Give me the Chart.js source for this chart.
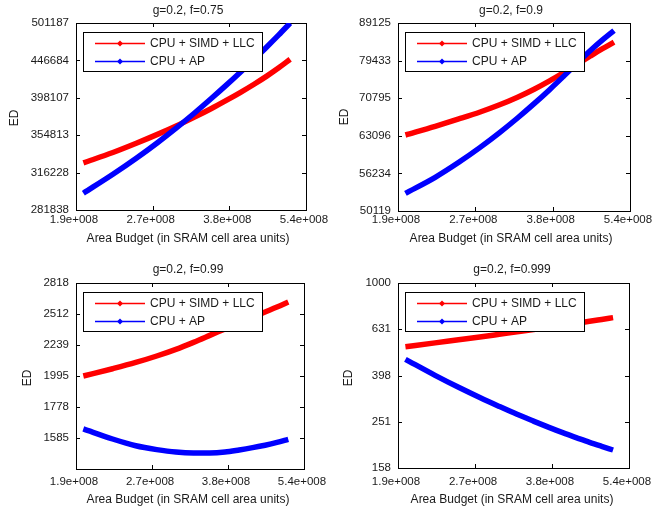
<!DOCTYPE html>
<html>
<head>
<meta charset="utf-8">
<script src="https://cdn.jsdelivr.net/npm/chart.js@4/dist/chart.umd.min.js"></script>
<style>
  html, body { margin: 0; padding: 0; background: #fff; overflow: hidden; }
  body { position: relative; width: 653px; height: 509px; }
  canvas { position: absolute; }
</style>
</head>
<body>
<canvas id="p1" width="340" height="255" style="left:0;top:0"></canvas>
<canvas id="p2" width="340" height="255" style="left:325px;top:0"></canvas>
<canvas id="p3" width="340" height="254" style="left:0;top:255px"></canvas>
<canvas id="p4" width="340" height="254" style="left:325px;top:255px"></canvas>
<script>
// ED vs area budget, four (g, f) cases

// --- Data ---
const areaBudget = [1.97e8, 2.25e8, 2.5e8, 2.75e8, 3.0e8, 3.25e8, 3.5e8, 3.75e8, 4.0e8, 4.25e8, 4.5e8, 4.75e8, 5.0e8];

const simdF075 = [325800, 336400, 346100, 355700, 365300, 375100, 384900, 394900, 404900, 415100, 425600, 436600, 448200];
const apF075   = [296800, 314600, 330500, 346700, 363200, 379900, 396900, 413900, 431100, 448400, 465600, 483200, 501100];

const simdF09 = [63250, 64940, 66430, 67870, 69380, 71010, 72770, 74650, 76640, 78640, 80560, 82380, 84060];
const apF09   = [52910, 55570, 58180, 60900, 63720, 66630, 69620, 72670, 75800, 78930, 81930, 84630, 87100];

const simdF099 = [1995, 2050, 2098, 2149, 2203, 2261, 2320, 2377, 2431, 2482, 2531, 2578, 2626];
const apF099   = [1639, 1579, 1540, 1518, 1504, 1499, 1499, 1504, 1516, 1529, 1543, 1559, 1577];

const simdF0999 = [530.3, 550.8, 568.1, 584.1, 600.0, 615.2, 629.4, 643.3, 656.9, 670.1, 682.9, 695.9, 708.5];
const apF0999   = [467.8, 398.8, 354.0, 319.8, 292.7, 270.5, 252.7, 237.5, 224.7, 214.1, 204.7, 196.7, 189.6];

const seriesLabels = ["CPU + SIMD + LLC", "CPU + AP"];
const plotTitles = ["g=0.2, f=0.75", "g=0.2, f=0.9", "g=0.2, f=0.99", "g=0.2, f=0.999"];

const xTickValues = [1.905e8, 2.692e8, 3.802e8, 5.370e8];
const xTickLabels = ["1.9e+008", "2.7e+008", "3.8e+008", "5.4e+008"];

const yTicksF075 = [281838, 316228, 354813, 398107, 446684, 501187];
const yTicksF09 = [50119, 56234, 63096, 70795, 79433, 89125];
const yTicksF099 = [1585, 1778, 1995, 2239, 2512, 2818];
const yTicksF0999 = [158, 251, 398, 631, 1000];

const FONT = "'Liberation Sans', Arial, sans-serif";
const TEXT_COLOR = "#1a1a1a";

// --- Plugin: box, inward ticks, legend, titles ---

const matlabLook = {
  id: "matlabLook",
  beforeDatasetsDraw(chart) {
    const { ctx, chartArea: a, scales } = chart;
    ctx.save();
    ctx.strokeStyle = "#000";
    ctx.lineWidth = 1;
    ctx.strokeRect(Math.round(a.left) + 0.5, Math.round(a.top) + 0.5,
      Math.round(a.right - a.left), Math.round(a.bottom - a.top));
    ctx.beginPath();
    scales.x.ticks.forEach(t => {
      const px = Math.round(scales.x.getPixelForValue(t.value)) + 0.5;
      ctx.moveTo(px, a.bottom); ctx.lineTo(px, a.bottom - 4);
      ctx.moveTo(px, a.top); ctx.lineTo(px, a.top + 4);
    });
    scales.y.ticks.forEach(t => {
      const py = Math.round(scales.y.getPixelForValue(t.value)) + 0.5;
      ctx.moveTo(a.left, py); ctx.lineTo(a.left + 4, py);
      ctx.moveTo(a.right, py); ctx.lineTo(a.right - 4, py);
    });
    ctx.stroke();
    ctx.restore();
  },
  afterDatasetsDraw(chart) {
    const { ctx, chartArea: a } = chart;
    const bx = Math.round(a.left) + 7, by = Math.round(a.top) + 9;
    ctx.save();
    ctx.fillStyle = "#fff";
    ctx.fillRect(bx, by, 179, 39);
    ctx.strokeStyle = "#000";
    ctx.lineWidth = 1;
    ctx.strokeRect(bx + 0.5, by + 0.5, 179, 39);
    chart.data.datasets.forEach((ds, i) => {
      const y = by + 11.5 + i * 18;
      ctx.strokeStyle = ds.borderColor;
      ctx.lineWidth = 1.5;
      ctx.beginPath();
      ctx.moveTo(bx + 12, y);
      ctx.lineTo(bx + 62, y);
      ctx.stroke();
      ctx.fillStyle = ds.borderColor;
      ctx.beginPath();
      ctx.moveTo(bx + 37, y - 3);
      ctx.lineTo(bx + 40, y);
      ctx.lineTo(bx + 37, y + 3);
      ctx.lineTo(bx + 34, y);
      ctx.closePath();
      ctx.fill();
      ctx.fillStyle = TEXT_COLOR;
      ctx.font = "12px " + FONT;
      ctx.textBaseline = "middle";
      ctx.textAlign = "left";
      ctx.fillText(ds.label, bx + 67, y + 0.5);
    });
    ctx.restore();
  },
  afterDraw(chart, args, opts) {
    const ctx = chart.ctx;
    ctx.save();
    ctx.fillStyle = TEXT_COLOR;
    ctx.font = "12px " + FONT;
    ctx.textAlign = "center";
    ctx.textBaseline = "middle";
    ctx.fillText(opts.title, opts.titleX, opts.titleY);
    ctx.fillText("Area Budget (in SRAM cell area units)", opts.titleX, opts.xTitleY);
    ctx.translate(opts.yTitleX, opts.yTitleY);
    ctx.rotate(-Math.PI / 2);
    ctx.fillText("ED", 0, 0);
    ctx.restore();
  },
};

// --- Chart builder ---

function makePlot(id, simd, ap, yTicks, yMin, yMax, box) {
  const canvas = document.getElementById(id);
  const tickFont = { family: FONT, size: 11.5 };
  const lineStyle = {
    borderWidth: 5.5,
    pointRadius: 0,
    cubicInterpolationMode: "monotone",
    fill: false,
  };
  return new Chart(canvas.getContext("2d"), {
    type: "line",
    data: {
      datasets: [
        {
          ...lineStyle,
          label: seriesLabels[0],
          data: areaBudget.map((x, i) => ({ x, y: simd[i] })),
          borderColor: "#ff0000",
          order: 1,
        },
        {
          ...lineStyle,
          label: seriesLabels[1],
          data: areaBudget.map((x, i) => ({ x, y: ap[i] })),
          borderColor: "#0000ff",
          order: 0,
        },
      ],
    },
    options: {
      responsive: false,
      animation: false,
      events: [],
      layout: { padding: { left: 0, top: box.top, right: canvas.width - box.right, bottom: 0 } },
      plugins: {
        legend: { display: false },
        tooltip: { enabled: false },
        matlabLook: box.text,
      },
      scales: {
        x: {
          type: "logarithmic",
          min: 1.9055e8,
          max: 5.3703e8,
          afterBuildTicks: s => { s.ticks = xTickValues.map(v => ({ value: v })); },
          afterFit: s => { s.height = canvas.height - box.bottom; },
          ticks: {
            callback: (v, i) => xTickLabels[i],
            autoSkip: false,
            maxRotation: 0,
            padding: box.xPad,
            labelOffset: -2,
            font: tickFont,
            color: TEXT_COLOR,
          },
          grid: { display: false, drawTicks: false },
          border: { display: false },
        },
        y: {
          type: "logarithmic",
          min: yMin,
          max: yMax,
          afterBuildTicks: s => { s.ticks = yTicks.map(v => ({ value: v })); },
          afterFit: s => { s.width = box.left; },
          ticks: {
            callback: (v, i) => String(yTicks[i]),
            autoSkip: false,
            padding: 7,
            font: tickFont,
            color: TEXT_COLOR,
          },
          grid: { display: false, drawTicks: false },
          border: { display: false },
        },
      },
    },
    plugins: [matlabLook],
  });
}

makePlot("p1", simdF075, apF075, yTicksF075, 281838.3, 501187.2, {
  left: 76, top: 23, right: 306, bottom: 210, xPad: 3,
  text: { title: plotTitles[0], titleX: 188, titleY: 11, xTitleY: 239, yTitleX: 15, yTitleY: 118 },
});
makePlot("p2", simdF09, apF09, yTicksF09, 50118.7, 89125.1, {
  left: 73, top: 23, right: 305, bottom: 211, xPad: 2,
  text: { title: plotTitles[1], titleX: 186, titleY: 11, xTitleY: 239, yTitleX: 20, yTitleY: 117 },
});
makePlot("p3", simdF099, apF099, yTicksF099, 1412.5, 2818.4, {
  left: 76, top: 28, right: 304, bottom: 214, xPad: 6,
  text: { title: plotTitles[2], titleX: 188, titleY: 15, xTitleY: 245, yTitleX: 28, yTitleY: 123 },
});
makePlot("p4", simdF0999, apF0999, yTicksF0999, 158.49, 1000, {
  left: 73, top: 28, right: 304, bottom: 213, xPad: 7,
  text: { title: plotTitles[3], titleX: 187, titleY: 15, xTitleY: 245, yTitleX: 24, yTitleY: 123 },
});
</script>
</body>
</html>
